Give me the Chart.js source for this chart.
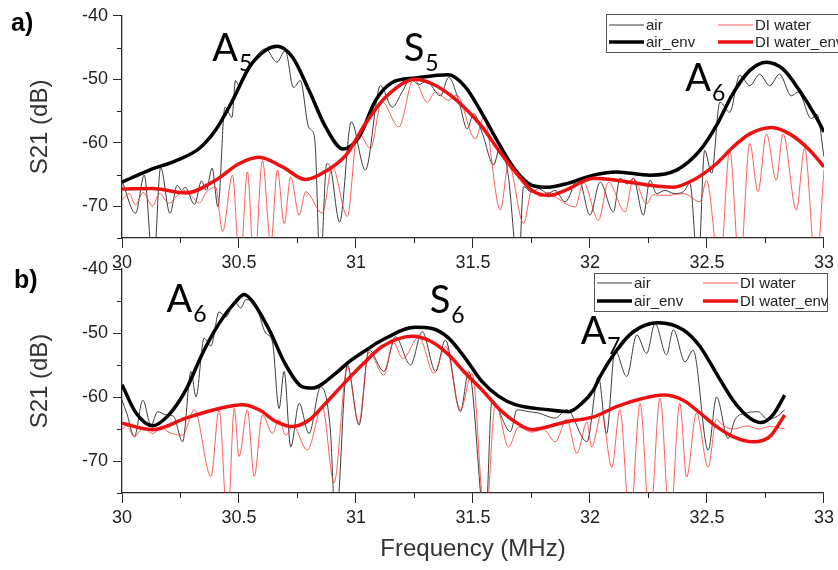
<!DOCTYPE html>
<html><head><meta charset="utf-8">
<script src="https://cdn.jsdelivr.net/npm/chart.js@4"></script>
<style>
html,body{margin:0;padding:0;background:#fff;}
#wrap{position:relative;width:838px;height:570px;overflow:hidden;}
canvas{position:absolute;left:0;top:0;}
</style></head><body>
<div id="wrap"><canvas id="c1" width="838" height="570"></canvas><canvas id="c2" width="838" height="570"></canvas></div>
<script>
// ---------- tick labels / names ----------
const xTickLabels = ['30','30.5','31','31.5','32','32.5','33'];
const yTickLabels = ['-40','-50','-60','-70'];
const seriesNames = ['air','DI water','air_env','DI water_env'];

// ---------- panel a) ----------
const aAirF = [30.000,30.058,30.095,30.134,30.165,30.205,30.236,30.255,30.270,30.310,30.340,30.360,30.385,30.410,30.440,30.470,30.485,30.500,30.530,30.560,30.613,30.662,30.698,30.733,30.762,30.797,30.810,30.825,30.847,30.875,30.890,30.930,30.980,31.040,31.105,31.155,31.197,31.233,31.270,31.300,31.361,31.396,31.440,31.475,31.503,31.540,31.588,31.617,31.650,31.695,31.716,31.750,31.780,31.820,31.850,31.894,31.951,32.000,32.043,32.100,32.128,32.160,32.185,32.228,32.256,32.285,32.320,32.360,32.400,32.427,32.462,32.490,32.520,32.555,32.597,32.640,32.683,32.725,32.768,32.810,32.860,32.890,32.946,32.970,33.000];
const aAirDb = [-66.0,-71.1,-65.1,-80,-63.9,-71.1,-66.7,-67.5,-67.0,-69.7,-66.0,-67.5,-64.0,-70.1,-54.4,-56.0,-50.2,-51.0,-48.5,-47.0,-45.2,-47.3,-45.5,-51.3,-50.2,-57.5,-58.0,-60.0,-80,-63.3,-63.8,-72.5,-56.7,-64.3,-51.0,-54.4,-52.0,-50.0,-50.8,-50.3,-52.6,-49.7,-53.5,-57.8,-55.4,-58.5,-63.5,-60.4,-65.0,-80,-66.9,-67.8,-67.2,-68.0,-67.5,-69.3,-65.6,-71.4,-66.2,-70.9,-65.6,-66.5,-65.6,-71.4,-65.9,-68.0,-67.5,-68.0,-67.7,-66.4,-80,-61.2,-64.8,-53.6,-55.2,-49.4,-51.0,-49.2,-51.0,-49.2,-52.6,-52.0,-56.2,-55.5,-62.2];

const aWaterF = [30.000,30.030,30.058,30.090,30.130,30.160,30.200,30.240,30.270,30.300,30.330,30.360,30.400,30.430,30.472,30.504,30.536,30.565,30.600,30.636,30.664,30.693,30.721,30.757,30.785,30.856,30.899,30.963,31.000,31.013,31.062,31.110,31.183,31.247,31.304,31.340,31.396,31.430,31.510,31.546,31.617,31.652,31.716,31.752,31.790,31.820,31.850,31.937,31.972,32.036,32.079,32.150,32.185,32.242,32.270,32.330,32.400,32.470,32.498,32.555,32.597,32.640,32.683,32.718,32.754,32.796,32.825,32.882,32.917,32.966,33.000];
const aWaterDb = [-69.0,-68.0,-69.8,-67.8,-70.0,-68.0,-69.5,-68.2,-67.5,-68.5,-69.5,-67.8,-67.0,-74.0,-65.1,-80,-64.6,-80,-62.8,-76.0,-64.3,-72.7,-65.4,-71.4,-67.7,-71.1,-63.8,-71.6,-59.5,-58.6,-60.9,-53.5,-57.5,-49.9,-53.6,-52.0,-53.3,-52.5,-59.4,-56.0,-70.6,-63.3,-72.7,-67.5,-68.5,-67.8,-68.5,-70.1,-66.2,-72.2,-66.2,-70.9,-65.6,-69.6,-68.2,-68.3,-68.0,-69.3,-65.9,-80,-61.2,-80,-60.1,-67.7,-58.6,-65.9,-58.6,-70.6,-60.9,-80,-64.3];

const aAirEnvF = [30.000,30.117,30.231,30.330,30.400,30.473,30.544,30.615,30.664,30.728,30.800,30.870,30.945,31.013,31.084,31.155,31.254,31.396,31.467,31.539,31.610,31.681,31.752,31.823,31.894,32.015,32.114,32.256,32.370,32.470,32.540,32.610,32.683,32.754,32.825,32.896,32.967,33.000];
const aAirEnvDb = [-66.2,-64.3,-62.8,-60.9,-58.0,-53.3,-48.1,-45.4,-44.8,-46.5,-51.8,-57.5,-61.0,-59.1,-53.3,-50.5,-49.8,-49.3,-51.2,-55.4,-60.1,-64.3,-66.7,-67.0,-66.5,-65.1,-64.6,-65.1,-64.3,-61.2,-57.3,-52.3,-48.6,-47.3,-48.4,-51.8,-56.0,-58.3];

const aWaterEnvF = [30.000,30.130,30.274,30.400,30.500,30.586,30.686,30.785,30.870,30.956,31.040,31.127,31.254,31.325,31.396,31.467,31.539,31.610,31.681,31.752,31.823,31.894,32.015,32.114,32.256,32.356,32.440,32.540,32.610,32.683,32.775,32.853,32.940,33.000];
const aWaterEnvDb = [-67.3,-67.2,-67.9,-65.9,-63.3,-62.3,-63.8,-65.8,-64.5,-62.0,-57.0,-52.8,-50.0,-50.7,-52.3,-54.6,-57.5,-61.2,-64.6,-67.5,-68.3,-67.5,-65.6,-65.9,-66.7,-67.0,-65.9,-63.3,-60.7,-58.6,-57.6,-58.6,-61.2,-63.8];

// ---------- panel b) ----------
const bAirF = [30.000,30.020,30.053,30.089,30.124,30.152,30.190,30.220,30.259,30.295,30.316,30.351,30.380,30.415,30.445,30.480,30.508,30.529,30.570,30.614,30.643,30.671,30.693,30.721,30.757,30.799,30.849,30.890,30.913,30.963,31.013,31.055,31.119,31.169,31.233,31.283,31.340,31.382,31.446,31.482,31.553,31.581,31.660,31.688,31.740,31.780,31.851,31.901,31.987,32.036,32.071,32.107,32.157,32.200,32.242,32.278,32.327,32.356,32.406,32.441,32.505,32.541,32.590,32.620,32.669,32.719,32.760,32.800,32.832];
const bAirDb = [-60.5,-62.5,-66.2,-60.5,-64.4,-62.3,-62.8,-63.0,-67.0,-56.0,-60.0,-50.8,-52.0,-46.7,-47.5,-45.1,-46.1,-44.8,-45.5,-50.0,-51.4,-61.8,-56.0,-67.8,-61.0,-65.7,-58.4,-65.0,-80,-55.0,-64.4,-52.6,-56.0,-50.6,-55.0,-49.8,-56.0,-51.1,-62.3,-56.0,-80,-60.5,-65.4,-62.0,-62.3,-62.5,-63.3,-62.0,-67.0,-56.8,-65.7,-52.7,-56.8,-50.3,-53.2,-48.5,-53.4,-49.5,-54.5,-52.7,-68.3,-60.0,-66.5,-63.5,-62.5,-62.3,-63.5,-63.0,-62.0];

const bWaterF = [30.000,30.020,30.053,30.090,30.131,30.170,30.200,30.259,30.309,30.380,30.415,30.451,30.480,30.500,30.536,30.565,30.600,30.643,30.670,30.700,30.730,30.792,30.856,30.906,30.963,31.012,31.055,31.119,31.160,31.200,31.269,31.333,31.383,31.446,31.496,31.553,31.596,31.652,31.695,31.750,31.800,31.852,31.900,31.944,31.987,32.007,32.050,32.093,32.128,32.171,32.214,32.256,32.299,32.342,32.384,32.413,32.455,32.505,32.540,32.570,32.620,32.670,32.720,32.770,32.832];
const bWaterDb = [-65.0,-64.5,-66.2,-64.8,-65.7,-64.8,-65.5,-66.0,-62.0,-72.4,-62.0,-80,-61.8,-69.3,-62.0,-72.4,-62.8,-65.7,-63.5,-66.0,-64.5,-68.3,-61.5,-73.4,-55.3,-64.1,-53.0,-56.6,-51.5,-54.0,-50.6,-56.3,-52.1,-62.0,-56.3,-80,-61.0,-67.8,-64.7,-65.5,-65.0,-67.0,-63.5,-68.8,-63.9,-67.8,-62.5,-71.0,-62.0,-80,-61.0,-80,-60.2,-80,-61.0,-72.5,-62.5,-71.0,-63.5,-64.5,-65.0,-64.5,-65.0,-64.6,-65.0];

const bAirEnvF = [30.000,30.060,30.131,30.200,30.273,30.344,30.415,30.486,30.522,30.558,30.629,30.700,30.771,30.813,30.913,30.970,31.034,31.112,31.254,31.325,31.396,31.468,31.539,31.610,31.681,31.823,31.908,31.965,32.015,32.043,32.114,32.185,32.292,32.398,32.470,32.540,32.611,32.683,32.732,32.782,32.832];
const bAirEnvDb = [-58.1,-62.5,-64.5,-62.8,-58.9,-53.2,-48.5,-45.1,-44.0,-45.1,-49.5,-55.0,-58.4,-58.6,-56.3,-54.5,-52.9,-51.1,-49.1,-49.3,-50.8,-54.0,-57.6,-59.9,-61.2,-62.0,-62.3,-61.0,-58.9,-56.8,-52.7,-49.8,-48.4,-49.5,-52.1,-56.3,-60.5,-63.3,-64.0,-62.8,-59.7];

const bWaterEnvF = [30.000,30.131,30.273,30.415,30.515,30.586,30.657,30.728,30.800,30.870,30.956,31.034,31.112,31.240,31.325,31.396,31.468,31.539,31.610,31.681,31.752,31.823,31.894,32.015,32.114,32.228,32.313,32.398,32.470,32.540,32.611,32.697,32.768,32.832];
const bWaterEnvDb = [-64.1,-65.1,-63.3,-61.8,-61.2,-62.0,-63.8,-64.6,-63.6,-61.0,-57.6,-54.7,-52.1,-50.5,-51.4,-53.4,-56.3,-58.9,-61.8,-63.9,-65.1,-64.6,-63.9,-63.1,-61.5,-60.2,-59.7,-60.5,-62.5,-64.6,-66.2,-67.0,-66.2,-62.8];

// ---------- annotations (data coordinates) ----------
const aNotes = [['A','5',30.386,-47.1],['S','5',31.204,-47.1],['A','6',32.407,-51.8]];
const bNotes = [['A','6',30.19,-46.7],['S','6',31.315,-46.9],['A','7',31.96,-51.7]];

// ---------- helpers ----------
const pts = (f, d) => f.map((x, i) => ({x: x, y: d[i]}));
const FONT = '"Liberation Sans", Arial, sans-serif';
const AXIS = '#262626';
const styles = [
  {borderColor: '#3c3c3c', borderWidth: 1, order: 4},
  {borderColor: 'rgba(255,40,40,0.75)', borderWidth: 1, order: 3},
  {borderColor: '#000000', borderWidth: 3.5, order: 2},
  {borderColor: '#ee1111', borderWidth: 3.5, order: 1}
];
const isLabelled = (labels, v) => labels.some(l => Math.abs(parseFloat(l) - v) < 1e-6);
const majorColor = labels => ctx => (ctx.tick && isLabelled(labels, ctx.tick.value)) ? AXIS : 'rgba(0,0,0,0)';

function makeDatasets(lists) {
  return lists.map((l, i) => Object.assign({
    label: seriesNames[i],
    data: pts(l[0], l[1]),
    pointRadius: 0,
    fill: false,
    cubicInterpolationMode: 'monotone'
  }, styles[i]));
}

const overlay = {
  id: 'overlay',
  afterDraw(chart, args, o) {
    const ctx = chart.ctx, xs = chart.scales.x, ys = chart.scales.y;
    ctx.save();
    // minor ticks (shorter, outward)
    ctx.strokeStyle = AXIS; ctx.lineWidth = 1;
    ctx.beginPath();
    xs.ticks.forEach(t => {
      if (isLabelled(xTickLabels, t.value)) return;
      const px = Math.round(xs.getPixelForValue(t.value)) + 0.5;
      ctx.moveTo(px, ys.bottom); ctx.lineTo(px, ys.bottom + 5);
    });
    ys.ticks.forEach(t => {
      if (isLabelled(yTickLabels, t.value)) return;
      const py = Math.round(ys.getPixelForValue(t.value)) + 0.5;
      ctx.moveTo(xs.left, py); ctx.lineTo(xs.left - 5, py);
    });
    ctx.stroke();

    ctx.textAlign = 'left';
    ctx.textBaseline = 'alphabetic';
    ctx.fillStyle = '#000';
    ctx.font = 'bold 25px ' + FONT;
    ctx.fillText(o.panel.text, o.panel.x, o.panel.y);
    o.notes.forEach(n => {
      const px = xs.getPixelForValue(n[2]), py = ys.getPixelForValue(n[3]);
      ctx.font = '38px Lato, "Open Sans", sans-serif';
      ctx.fillStyle = '#000';
      ctx.fillText(n[0], px, py);
      const w = ctx.measureText(n[0]).width;
      ctx.font = '23px Lato, "Open Sans", sans-serif';
      ctx.fillText(n[1], px + w + 1, py + 10);
    });
    const b = o.legend;
    ctx.fillStyle = '#fff';
    ctx.fillRect(b.x, b.y, b.w, b.h);
    ctx.strokeStyle = '#555';
    ctx.lineWidth = 1;
    ctx.strokeRect(b.x + 0.5, b.y + 0.5, b.w, b.h);
    ctx.font = '15px ' + FONT;
    ctx.textBaseline = 'middle';
    chart.data.datasets.forEach((ds, i) => {
      const col = i % 2, row = Math.floor(i / 2);
      const lx = b.x + 3 + col * b.colW, ly = b.y + b.row0 + row * b.rowH;
      ctx.strokeStyle = ds.borderColor;
      ctx.lineWidth = ds.borderWidth;
      ctx.beginPath(); ctx.moveTo(lx, ly); ctx.lineTo(lx + 35, ly); ctx.stroke();
      ctx.fillStyle = '#222';
      ctx.fillText(ds.label, lx + 37, ly + 1);
    });
    ctx.restore();
  }
};

function makeChart(id, lists, cfg) {
  return new Chart(document.getElementById(id), {
    type: 'line',
    data: {datasets: makeDatasets(lists)},
    plugins: [overlay],
    options: {
      responsive: false,
      animation: false,
      devicePixelRatio: 1,
      layout: {padding: cfg.padding},
      plugins: {
        legend: {display: false},
        tooltip: {enabled: false},
        overlay: {panel: cfg.panel, notes: cfg.notes, legend: cfg.legend}
      },
      scales: {
        x: {
          type: 'linear', min: 30, max: 33,
          afterFit: s => { s.height = cfg.xHeight; },
          grid: {display: true, drawOnChartArea: false, drawTicks: true, tickLength: 10,
                 color: AXIS, tickColor: majorColor(xTickLabels), lineWidth: 1},
          border: {display: true, color: AXIS, width: 1.3},
          ticks: {
            stepSize: 0.25, autoSkip: false, maxRotation: 0, minRotation: 0, padding: 4,
            color: '#222', font: {family: FONT, size: 18},
            callback: v => xTickLabels.find(l => Math.abs(parseFloat(l) - v) < 1e-6) || ''
          },
          title: {display: cfg.xTitle, text: 'Frequency (MHz)', color: '#333',
                  font: {family: FONT, size: 24}, padding: {top: 0, bottom: 6}}
        },
        y: {
          type: 'linear', min: -75, max: -40,
          afterFit: s => { s.width = 122; },
          grid: {display: true, drawOnChartArea: false, drawTicks: true, tickLength: 9,
                 color: AXIS, tickColor: majorColor(yTickLabels), lineWidth: 1},
          border: {display: true, color: AXIS, width: 1.3},
          ticks: {
            stepSize: 5, autoSkip: false, padding: 5,
            color: '#222', font: {family: FONT, size: 18},
            callback: v => yTickLabels.find(l => Math.abs(parseFloat(l) - v) < 1e-6) || ''
          },
          title: {display: true, text: 'S21 (dB)', color: '#333',
                  font: {family: FONT, size: 24}, padding: {top: 26, bottom: 0}}
        }
      }
    }
  });
}

makeChart('c1', [[aAirF, aAirDb], [aWaterF, aWaterDb], [aAirEnvF, aAirEnvDb], [aWaterEnvF, aWaterEnvDb]], {
  padding: {left: 0, right: 12, top: 15, bottom: 298},
  xHeight: 34, xTitle: false,
  panel: {text: 'a)', x: 11, y: 31},
  notes: aNotes,
  legend: {x: 606, y: 14, w: 236, h: 38, colW: 109, row0: 11, rowH: 17}
});

makeChart('c2', [[bAirF, bAirDb], [bWaterF, bWaterDb], [bAirEnvF, bAirEnvDb], [bWaterEnvF, bWaterEnvDb]], {
  padding: {left: 0, right: 12, top: 269, bottom: 0},
  xHeight: 77, xTitle: true,
  panel: {text: 'b)', x: 14, y: 288},
  notes: bNotes,
  legend: {x: 594, y: 273, w: 233, h: 38, colW: 106, row0: 10, rowH: 18}
});
</script>
</body></html>
